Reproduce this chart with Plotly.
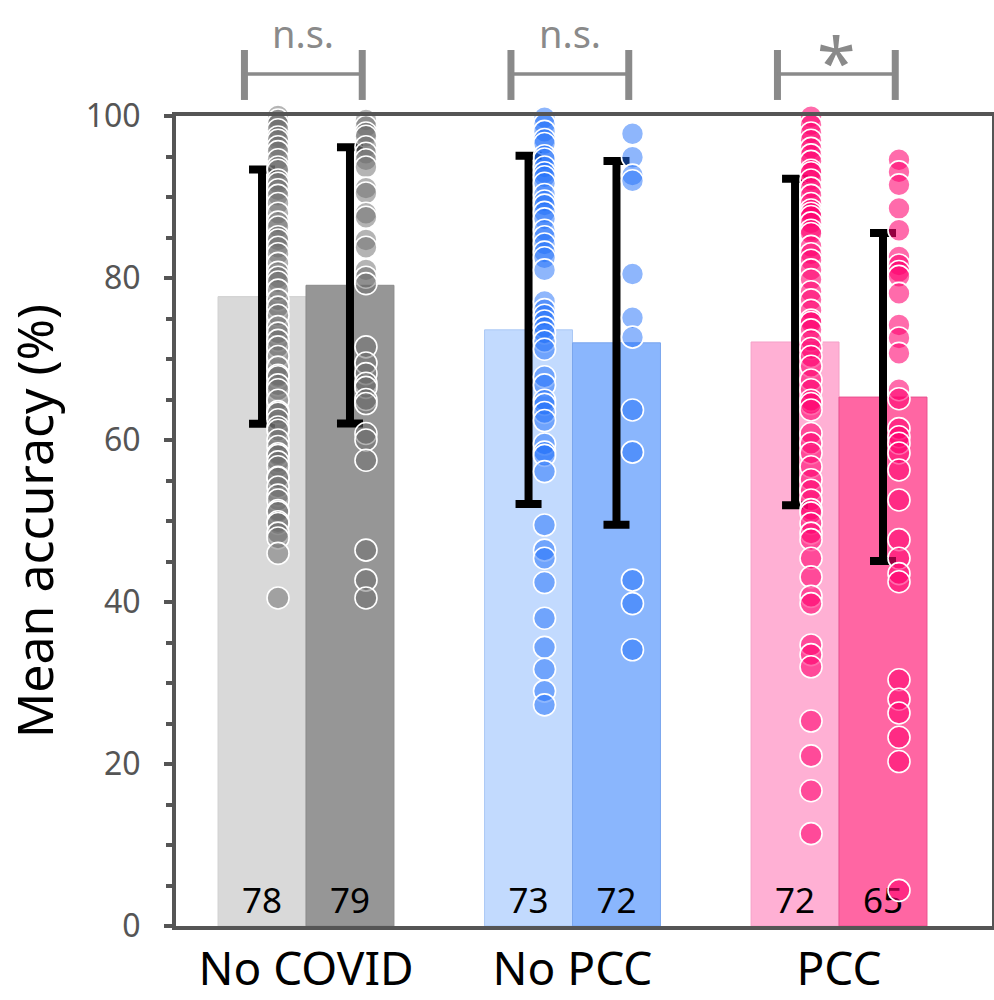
import plotly.graph_objects as go

# ---------------- data ----------------
groups = ["No COVID", "No PCC", "PCC"]
means_light = [77.7, 73.6, 72.1]
means_dark = [79.1, 72.0, 65.3]
sd_light = [15.7, 21.5, 20.15]
sd_dark = [17.05, 22.45, 20.25]
labels_light = ["78", "73", "72"]
labels_dark = ["79", "72", "65"]
sig_labels = ["n.s.", "n.s.", "*"]

pts_nocovid_light = [100, 99.5, 99.0, 98.3, 97.4, 97.0, 96.2, 95.6, 94.6, 93.7, 93.3, 92.1,
                     91.7, 90.9, 90.2, 89.2, 88.0, 86.9, 86.3, 85.1, 84.7, 83.8, 83.0, 81.8,
                     80.7, 80.1, 79.5, 78.5, 77.3, 76.4, 75.4, 74.0, 73.2, 72.3, 71.5, 70.3,
                     69.0, 68.0, 67.8, 66.8, 66.2, 64.9, 63.5, 63.3, 62.5, 61.6, 61.2, 60.0,
                     59.2, 58.3, 58.1, 57.3, 56.7, 55.4, 55.3, 54.2, 53.2, 52.6, 51.3, 51.1,
                     49.9, 49.7, 48.5, 47.9, 46.0, 40.5]
pts_nocovid_dark = [99.5, 98.7, 97.9, 97.5, 96.2, 95.4, 94.6, 93.7, 91.1, 90.5, 88.0, 87.5,
                    84.7, 83.8, 81.0, 80.1, 79.3, 71.5, 69.5, 68.2, 67.0, 66.5, 65.0, 64.5,
                    60.8, 60.0, 57.5, 46.4, 42.7, 40.5]
pts_nopcc_light = [99.8, 99.0, 98.1, 97.1, 96.6, 95.1, 94.7, 93.7, 93.0, 92.5, 91.7, 90.3,
                   89.5, 89.0, 88.1, 87.3, 85.9, 85.1, 84.2, 83.2, 82.5, 81.0, 77.1, 76.1,
                   75.4, 74.7, 73.9, 73.2, 72.2, 71.2, 67.8, 66.8, 64.9, 64.4, 63.4, 62.4,
                   59.5, 58.5, 58.1, 56.1, 49.5, 46.4, 45.4, 42.4, 38.0, 34.4, 31.7, 29.0, 27.3]
pts_nopcc_dark = [97.8, 94.9, 92.7, 92.0, 80.5, 75.1, 72.7, 63.7, 58.5, 42.7, 39.8, 34.1]
pts_pcc_light = [99.9, 98.9, 97.9, 97.0, 96.0, 95.2, 94.4, 93.3, 93.0, 92.1, 91.1, 90.2,
                 89.2, 88.4, 88.0, 87.6, 86.8, 85.9, 85.5, 83.9, 83.0, 82.2, 81.0, 79.8,
                 78.3, 77.3, 76.0, 74.8, 74.5, 73.6, 72.3, 71.3, 70.3, 69.1, 67.4, 66.2,
                 64.9, 64.5, 63.7, 60.8, 59.6, 58.4, 56.7, 55.1, 53.8, 52.6, 51.4, 51.0,
                 49.7, 48.5, 47.7, 45.4, 43.1, 40.7, 39.8, 34.7, 33.5, 32.0, 25.3, 21.0,
                 16.7, 11.4]
pts_pcc_dark = [94.6, 93.1, 91.5, 88.6, 85.9, 82.6, 81.6, 80.8, 80.2, 78.1, 74.2, 72.6,
                70.7, 66.2, 65.1, 61.4, 60.4, 59.6, 58.4, 56.3, 52.6, 47.7, 45.4, 43.5,
                42.5, 30.4, 28.0, 26.3, 23.3, 20.3, 4.4]

points_light = [pts_nocovid_light, pts_nopcc_light, pts_pcc_light]
points_dark = [pts_nocovid_dark, pts_nopcc_dark, pts_pcc_dark]

# ---------------- style ----------------
FONT = "Noto Sans"
bar_light_colors = ["#d9d9d9", "#c2dafe", "#ffb0d4"]
bar_dark_colors = ["#969696", "#8ab6fd", "#ff66a3"]
bar_light_lines = ["#cfcfcf", "#aac8f5", "#f5a0c8"]
bar_dark_lines = ["#8a8a8a", "#7aa6ee", "#e8508e"]
pt_colors = ["rgba(105,105,105,0.5)", "rgba(30,110,250,0.5)", "rgba(255,0,110,0.58)"]
BAR_W = 0.33
PT_SHIFT = 0.06
SIG_GREY = "#8a8a8a"

gx = list(range(len(groups)))
x_light = [g - BAR_W / 2 for g in gx]
x_dark = [g + BAR_W / 2 for g in gx]

fig = go.Figure()

err_style = dict(type="data", visible=True, color="black", thickness=8, width=13)

fig.add_trace(go.Bar(
    x=x_light, y=means_light, width=BAR_W,
    marker=dict(color=bar_light_colors, line=dict(color=bar_light_lines, width=1)),
    error_y=dict(array=sd_light, **err_style),
    text=labels_light, textposition="inside", insidetextanchor="start",
    textangle=0, constraintext="none",
    textfont=dict(family=FONT, size=35, color="black"),
    showlegend=False, hoverinfo="skip",
))
fig.add_trace(go.Bar(
    x=x_dark, y=means_dark, width=BAR_W,
    marker=dict(color=bar_dark_colors, line=dict(color=bar_dark_lines, width=1)),
    error_y=dict(array=sd_dark, **err_style),
    text=labels_dark, textposition="inside", insidetextanchor="start",
    textangle=0, constraintext="none",
    textfont=dict(family=FONT, size=35, color="black"),
    showlegend=False, hoverinfo="skip",
))

for i, g in enumerate(gx):
    for xs, pts in ((x_light[i], points_light[i]), (x_dark[i], points_dark[i])):
        fig.add_trace(go.Scatter(
            x=[xs + PT_SHIFT] * len(pts), y=pts, mode="markers",
            marker=dict(size=22, color=pt_colors[i], line=dict(color="white", width=1.6)),
            cliponaxis=False, showlegend=False, hoverinfo="skip",
        ))

# significance brackets
shapes = []
annotations = []
BR_HALF = 0.221
for i, g in enumerate(gx):
    c = g - 0.01
    for xv in (c - BR_HALF, c + BR_HALF):
        shapes.append(dict(type="line", xref="x", yref="paper", x0=xv, x1=xv,
                           y0=1.0198, y1=1.0815, line=dict(color=SIG_GREY, width=7)))
    shapes.append(dict(type="line", xref="x", yref="paper", x0=c - BR_HALF, x1=c + BR_HALF,
                       y0=1.0519, y1=1.0519, line=dict(color=SIG_GREY, width=3.5)))
    is_star = sig_labels[i] == "*"
    annotations.append(dict(
        x=c, y=1.0675 if is_star else 1.1025, xref="x", yref="paper",
        text=sig_labels[i], showarrow=False, xanchor="center", yanchor="middle",
        font=dict(family=FONT, size=70 if is_star else 38, color=SIG_GREY),
    ))

fig.update_layout(
    width=994, height=1000,
    margin=dict(l=176, r=2, t=116, b=74, autoexpand=False),
    paper_bgcolor="white", plot_bgcolor="white",
    barmode="overlay",
    shapes=shapes, annotations=annotations,
    font=dict(family=FONT),
    xaxis=dict(
        range=[-0.4878, 2.574], tickvals=gx, ticktext=groups,
        tickfont=dict(family=FONT, size=46, color="black"),
        ticks="", showline=True, mirror=True, linewidth=4, linecolor="#555555",
        showgrid=False, zeroline=False, ticklabelstandoff=0, automargin=False,
    ),
    yaxis=dict(
        range=[0, 100], tickvals=[0, 20, 40, 60, 80, 100],
        tickfont=dict(family=FONT, size=32, color="#555555"),
        ticks="outside", ticklen=8, tickwidth=4, tickcolor="#555555",
        minor=dict(dtick=5, ticks="outside", ticklen=6, tickwidth=4, tickcolor="#555555"),
        showline=True, mirror=True, linewidth=4, linecolor="#555555",
        showgrid=False, zeroline=False, ticklabelstandoff=17, automargin=False,
        title=dict(text="Mean accuracy (%)", font=dict(family=FONT, size=50, color="black"),
                   standoff=22),
    ),
)

fig.write_html("out.html", config={"displayModeBar": False},
               post_script="document.body.style.margin='0';")
